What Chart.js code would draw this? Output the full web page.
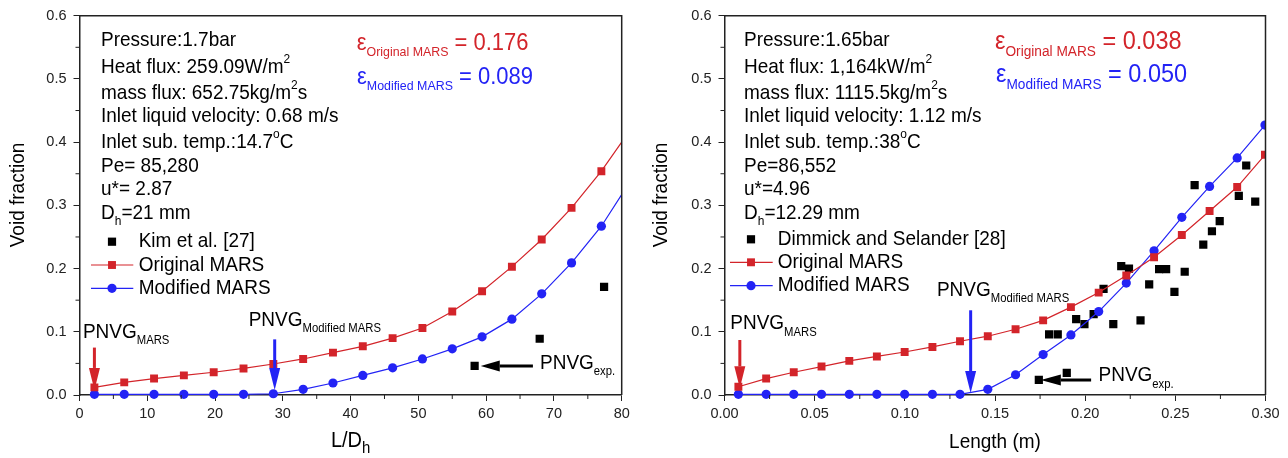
<!DOCTYPE html>
<html>
<head>
<meta charset="utf-8">
<title>Void fraction - original vs modified MARS</title>
<script src="https://cdn.jsdelivr.net/npm/chart.js@4.4.1/dist/chart.umd.min.js"></script>
<style>
  html, body { margin: 0; padding: 0; background: #fff; }
  body { width: 1288px; height: 458px; position: relative; overflow: hidden; }
  canvas { position: absolute; top: 0; }
  #chart-left { left: 0; }
  #chart-right { left: 644px; }
</style>
</head>
<body>
<canvas id="chart-left" width="640" height="458"></canvas>
<canvas id="chart-right" width="644" height="458"></canvas>
<script>
// left panel: Kim et al., x = L/Dh
const ldPoints = [2.2, 6.6, 11.0, 15.4, 19.8, 24.2, 28.6, 33.0, 37.4, 41.8, 46.2, 50.6, 55.0, 59.4, 63.8, 68.2, 72.6, 77.0, 80.0];
const origMarsA = [0.012, 0.020, 0.026, 0.031, 0.036, 0.042, 0.049, 0.057, 0.067, 0.077, 0.090, 0.106, 0.132, 0.164, 0.203, 0.246, 0.296, 0.354, 0.400];
const modMarsA = [0.001, 0.001, 0.001, 0.001, 0.001, 0.001, 0.002, 0.009, 0.019, 0.031, 0.043, 0.057, 0.073, 0.092, 0.120, 0.160, 0.209, 0.267, 0.317];
const kimLd = [58.3, 67.9, 77.4];
const kimVoid = [0.046, 0.089, 0.171];

// right panel: Dimmick and Selander, x = length (m)
const lenPoints = [0.0077, 0.0231, 0.0384, 0.0538, 0.0692, 0.0845, 0.0999, 0.1153, 0.1306, 0.1460, 0.1614, 0.1767, 0.1921, 0.2075, 0.2228, 0.2382, 0.2536, 0.2690, 0.2843, 0.2997];
const origMarsB = [0.013, 0.026, 0.036, 0.045, 0.054, 0.061, 0.068, 0.076, 0.085, 0.093, 0.104, 0.118, 0.139, 0.162, 0.189, 0.218, 0.253, 0.291, 0.329, 0.380];
const modMarsB = [0.001, 0.001, 0.001, 0.001, 0.001, 0.001, 0.001, 0.001, 0.001, 0.009, 0.032, 0.064, 0.095, 0.132, 0.177, 0.228, 0.281, 0.330, 0.375, 0.427];
const dimLen = [0.1743, 0.1898, 0.1800, 0.1848, 0.1950, 0.1996, 0.2047, 0.2102, 0.2156, 0.2200, 0.2243, 0.2307, 0.2355, 0.2410, 0.2449, 0.2495, 0.2552, 0.2607, 0.2655, 0.2703, 0.2746, 0.2852, 0.2893, 0.2943];
const dimVoid = [0.024, 0.035, 0.096, 0.096, 0.120, 0.112, 0.128, 0.168, 0.112, 0.204, 0.200, 0.118, 0.175, 0.199, 0.199, 0.163, 0.195, 0.332, 0.238, 0.259, 0.275, 0.315, 0.363, 0.306];

const FONT = '"Liberation Sans", Arial, sans-serif';
const RED = '#d3242a';
const BLUE = '#2323f5';
const AXIS = '#222';
const SX = 0.93; // the original lettering is a little narrow and tall

function richWidth(ctx, segs) {
  let w = 0;
  segs.forEach(([text, size]) => {
    ctx.font = `${size / SX}px ${FONT}`;
    w += ctx.measureText(text).width * SX;
  });
  return w;
}

function drawRich(ctx, x, y, segs, color) {
  ctx.save();
  ctx.fillStyle = color;
  ctx.textBaseline = 'middle';
  ctx.textAlign = 'left';
  segs.forEach(([text, size, dy]) => {
    ctx.font = `${size / SX}px ${FONT}`;
    ctx.save();
    ctx.translate(x, y + (dy || 0));
    ctx.scale(SX, 1);
    ctx.fillText(text, 0, 0);
    ctx.restore();
    x += ctx.measureText(text).width * SX;
  });
  ctx.restore();
}

function drawArrow(ctx, x1, y1, x2, y2, color, head, halfW) {
  const ang = Math.atan2(y2 - y1, x2 - x1);
  const bx = x2 - Math.cos(ang) * head;
  const by = y2 - Math.sin(ang) * head;
  ctx.save();
  ctx.strokeStyle = color;
  ctx.fillStyle = color;
  ctx.lineWidth = 3;
  ctx.beginPath();
  ctx.moveTo(x1, y1);
  ctx.lineTo(bx, by);
  ctx.stroke();
  ctx.beginPath();
  ctx.moveTo(x2, y2);
  ctx.lineTo(bx - Math.sin(ang) * halfW, by + Math.cos(ang) * halfW);
  ctx.lineTo(bx + Math.sin(ang) * halfW, by - Math.cos(ang) * halfW);
  ctx.closePath();
  ctx.fill();
  ctx.restore();
}

function makePanel(cfg) {
  const onStep = (v, step) => Math.abs(v / step - Math.round(v / step)) < 1e-6;
  const xMajor = v => onStep(v, cfg.xMajor);
  const yMajor = v => onStep(v, 0.1);

  const notes = {
    id: 'notes',
    afterDraw(chart) {
      const { ctx, chartArea: a, scales: { x, y } } = chart;
      ctx.save();
      ctx.strokeStyle = AXIS;
      ctx.lineWidth = 1.5;
      ctx.beginPath();
      ctx.moveTo(a.left, a.top);
      ctx.lineTo(a.right, a.top);
      ctx.lineTo(a.right, a.bottom);
      ctx.stroke();

      // minor ticks are shorter than the labelled ones
      ctx.lineWidth = 1;
      x.ticks.filter(t => !xMajor(t.value)).forEach(t => {
        const px = x.getPixelForValue(t.value);
        ctx.beginPath(); ctx.moveTo(px, a.bottom); ctx.lineTo(px, a.bottom + 4); ctx.stroke();
      });
      y.ticks.filter(t => !yMajor(t.value)).forEach(t => {
        const py = y.getPixelForValue(t.value);
        ctx.beginPath(); ctx.moveTo(a.left, py); ctx.lineTo(a.left - 4, py); ctx.stroke();
      });
      ctx.restore();

      // axis titles
      ctx.save();
      ctx.translate(cfg.yTitleX, 195);
      ctx.rotate(-Math.PI / 2);
      const yw = richWidth(ctx, [['Void fraction', 19]]);
      drawRich(ctx, -yw / 2, 0, [['Void fraction', 19]], '#000');
      ctx.restore();

      const tw = richWidth(ctx, cfg.xTitle);
      drawRich(ctx, (a.left + a.right) / 2 - tw / 2, cfg.xTitleY, cfg.xTitle, '#000');

      cfg.info.forEach((segs, i) => drawRich(ctx, cfg.infoX, cfg.infoY[i], segs, '#000'));
      cfg.eps.forEach(e => drawRich(ctx, e.x, e.y, e.segs, e.color));
      cfg.pnvg.forEach(p => drawRich(ctx, p.x, p.y, p.segs, '#000'));

      cfg.arrows.forEach(r => drawArrow(ctx,
        x.getPixelForValue(r.x1), y.getPixelForValue(r.y1),
        x.getPixelForValue(r.x2), y.getPixelForValue(r.y2),
        r.color, r.head, 5.5));

      // legend inside the plot
      const lg = cfg.legend;
      [2, 0, 1].forEach((di, row) => {
        const ds = chart.data.datasets[di];
        const ly = lg.ys[row];
        ctx.save();
        if (ds.showLine !== false) {
          ctx.strokeStyle = ds.borderColor;
          ctx.lineWidth = 1.2;
          ctx.beginPath(); ctx.moveTo(lg.x0, ly); ctx.lineTo(lg.x1, ly); ctx.stroke();
        }
        ctx.fillStyle = ds.pointBackgroundColor;
        Chart.helpers.drawPoint(ctx, { pointStyle: ds.pointStyle, radius: ds.legendRadius, borderWidth: 0, rotation: 0 }, lg.mx, ly);
        ctx.restore();
        drawRich(ctx, lg.tx, ly, [[ds.label, 19]], '#000');
      });
    }
  };

  const pts = ys => cfg.x.map((x, i) => ({ x, y: ys[i] }));

  return new Chart(document.getElementById(cfg.canvas), {
    type: 'line',
    data: {
      datasets: [
        {
          label: 'Original MARS',
          data: pts(cfg.orig),
          borderColor: RED,
          borderWidth: 1.2,
          pointStyle: 'rect',
          pointBackgroundColor: RED,
          pointBorderWidth: 0,
          pointRadius: c => (c.dataIndex < cfg.markers ? 5.6 : 0),
          legendRadius: 5.6,
          tension: 0,
        },
        {
          label: 'Modified MARS',
          data: pts(cfg.mod),
          borderColor: BLUE,
          borderWidth: 1.2,
          pointStyle: 'circle',
          pointBackgroundColor: BLUE,
          pointBorderWidth: 0,
          pointRadius: c => (c.dataIndex < cfg.markers ? 4.6 : 0),
          legendRadius: 4.6,
          tension: 0,
        },
        {
          label: cfg.expName,
          data: cfg.expX.map((x, i) => ({ x, y: cfg.expY[i] })),
          showLine: false,
          borderColor: '#000',
          pointStyle: 'rect',
          pointBackgroundColor: '#000',
          pointBorderWidth: 0,
          pointRadius: 5.8,
          legendRadius: 5.8,
        },
      ],
    },
    options: {
      responsive: false,
      animation: false,
      clip: { left: false, top: false, right: 0, bottom: false },
      layout: { padding: { left: 0, top: 15, right: cfg.padRight, bottom: 0 } },
      plugins: { legend: { display: false }, tooltip: { enabled: false } },
      scales: {
        x: {
          type: 'linear',
          min: cfg.xMin,
          max: cfg.xMax,
          border: { display: true, color: AXIS, width: 1.5 },
          grid: {
            drawOnChartArea: false,
            tickLength: 6,
            tickColor: c => (xMajor(c.tick.value) ? AXIS : 'rgba(0,0,0,0)'),
          },
          ticks: {
            stepSize: cfg.xStep,
            autoSkip: false,
            maxRotation: 0,
            padding: 4,
            color: AXIS,
            font: { family: FONT, size: 14.5 },
            callback: v => (xMajor(v) ? v.toFixed(cfg.xDecimals) : ''),
          },
          afterFit: s => { s.height = 63; },
        },
        y: {
          type: 'linear',
          min: 0,
          max: 0.6,
          border: { display: true, color: AXIS, width: 1.5 },
          grid: {
            drawOnChartArea: false,
            tickLength: 6,
            tickColor: c => (yMajor(c.tick.value) ? AXIS : 'rgba(0,0,0,0)'),
          },
          ticks: {
            stepSize: 0.05,
            autoSkip: false,
            padding: 7,
            color: AXIS,
            font: { family: FONT, size: 14.5 },
            callback: v => (yMajor(v) ? v.toFixed(1) : ''),
          },
          afterFit: s => { s.width = cfg.areaLeft; },
        },
      },
    },
    plugins: [notes],
  });
}

makePanel({
  canvas: 'chart-left',
  x: ldPoints, orig: origMarsA, mod: modMarsA, markers: 18,
  expX: kimLd, expY: kimVoid, expName: 'Kim et al. [27]',
  xMin: 0, xMax: 80, xStep: 5, xMajor: 10, xDecimals: 0,
  areaLeft: 79.5, padRight: 18.3,
  yTitleX: 18.3,
  xTitle: [['L/D', 20], ['h', 15, 8]], xTitleY: 440.7,
  infoX: 101,
  infoY: [40.7, 67.7, 93.3, 116.7, 142.7, 166.7, 189.3, 213.3],
  info: [
    [['Pressure:1.7bar', 19]],
    [['Heat flux: 259.09W/m', 19], ['2', 12, -8]],
    [['mass flux: 652.75kg/m', 19], ['2', 12, -8], ['s', 19]],
    [['Inlet liquid velocity: 0.68 m/s', 19]],
    [['Inlet sub. temp.:14.7', 19], ['o', 12, -8], ['C', 19]],
    [['Pe= 85,280', 19]],
    [['u*= 2.87', 19]],
    [['D', 19], ['h', 12, 8.4], ['=21 mm', 19]],
  ],
  legend: { x0: 91, x1: 133.3, mx: 112, tx: 138.7, ys: [241.7, 265, 288.3] },
  eps: [
    { x: 356.7, y: 43.3, color: RED, segs: [['ε', 22], ['Original MARS', 12.4, 9.4], [' = 0.176', 22]] },
    { x: 357, y: 77.3, color: BLUE, segs: [['ε', 22], ['Modified MARS', 12.4, 9.4], [' = 0.089', 22]] },
  ],
  pnvg: [
    { x: 82.9, y: 332.7, segs: [['PNVG', 19], ['MARS', 11.3, 8]] },
    { x: 248.7, y: 320, segs: [['PNVG', 19], ['Modified MARS', 11.3, 8.3]] },
    { x: 540, y: 363.3, segs: [['PNVG', 19], ['exp.', 11.3, 8.4]] },
  ],
  arrows: [
    { x1: 2.2, y1: 0.075, x2: 2.2, y2: 0.008, color: RED, head: 22 },
    { x1: 28.8, y1: 0.088, x2: 28.8, y2: 0.008, color: BLUE, head: 22 },
    { x1: 66.9, y1: 0.046, x2: 59.2, y2: 0.046, color: '#000', head: 19 },
  ],
});

makePanel({
  canvas: 'chart-right',
  x: lenPoints, orig: origMarsB, mod: modMarsB, markers: 20,
  expX: dimLen, expY: dimVoid, expName: 'Dimmick and Selander [28]',
  xMin: 0, xMax: 0.3, xStep: 0.025, xMajor: 0.05, xDecimals: 2,
  areaLeft: 80.5, padRight: 22.5,
  yTitleX: 17.7,
  xTitle: [['Length (m)', 19]], xTitleY: 442,
  infoX: 100,
  infoY: [40.7, 67.7, 93.3, 116.7, 142.7, 166, 189.3, 213.3],
  info: [
    [['Pressure:1.65bar', 19]],
    [['Heat flux: 1,164kW/m', 19], ['2', 12, -8]],
    [['mass flux: 1115.5kg/m', 19], ['2', 12, -8], ['s', 19]],
    [['Inlet liquid velocity: 1.12 m/s', 19]],
    [['Inlet sub. temp.:38', 19], ['o', 12, -8], ['C', 19]],
    [['Pe=86,552', 19]],
    [['u*=4.96', 19]],
    [['D', 19], ['h', 12, 8.4], ['=12.29 mm', 19]],
  ],
  legend: { x0: 86, x1: 128.7, mx: 107, tx: 133.7, ys: [239.3, 262.3, 285.7] },
  eps: [
    { x: 351, y: 41.7, color: RED, segs: [['ε', 23.5], ['Original MARS', 13.7, 10.6], [' = 0.038', 23.5]] },
    { x: 352, y: 75, color: BLUE, segs: [['ε', 23.5], ['Modified MARS', 13.7, 10], [' = 0.050', 23.5]] },
  ],
  pnvg: [
    { x: 86.3, y: 323.3, segs: [['PNVG', 19], ['MARS', 11.3, 9.4]] },
    { x: 292.9, y: 290, segs: [['PNVG', 19], ['Modified MARS', 11.3, 9]] },
    { x: 454.5, y: 375, segs: [['PNVG', 19], ['exp.', 11.3, 9.3]] },
  ],
  arrows: [
    { x1: 0.0085, y1: 0.087, x2: 0.0085, y2: 0.0105, color: RED, head: 22 },
    { x1: 0.1365, y1: 0.134, x2: 0.1365, y2: 0.003, color: BLUE, head: 22 },
    { x1: 0.2033, y1: 0.0237, x2: 0.1754, y2: 0.0237, color: '#000', head: 20 },
  ],
});
</script>
</body>
</html>
